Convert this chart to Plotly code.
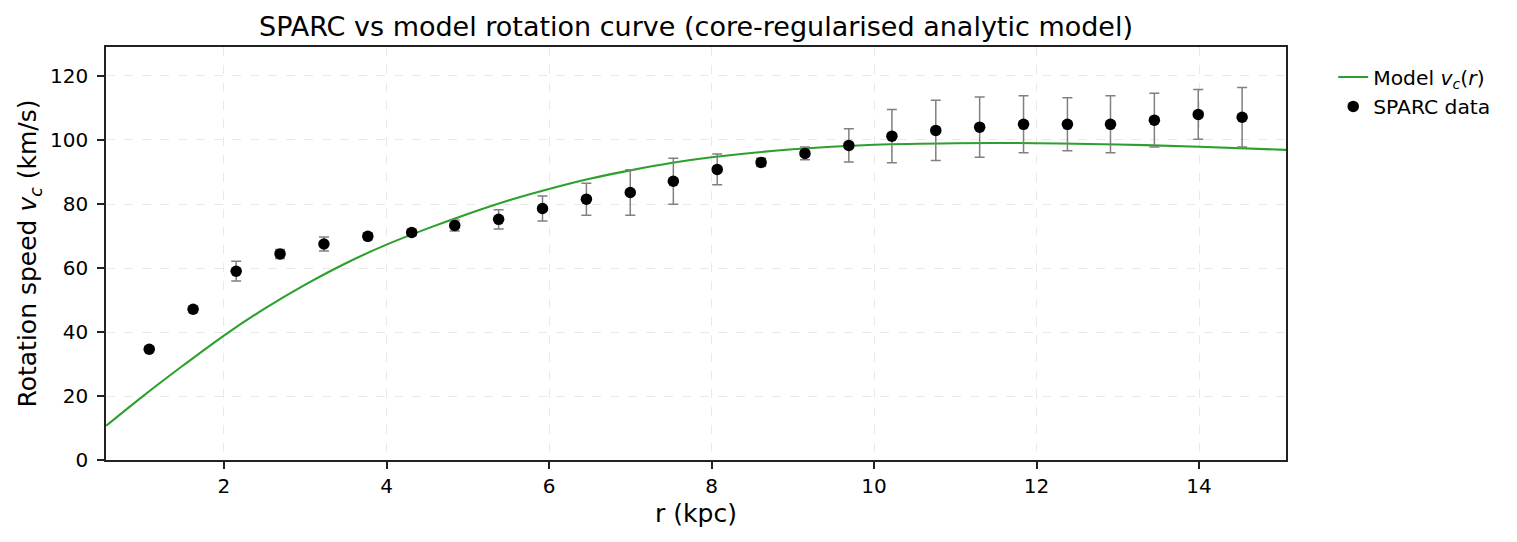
import plotly.graph_objects as go

# SPARC observations
r_data = [1.08, 1.62, 2.15, 2.69, 3.23, 3.77, 4.31, 4.84, 5.38, 5.92, 6.46, 7.00, 7.53,
          8.07, 8.61, 9.15, 9.69, 10.22, 10.76, 11.30, 11.84, 12.38, 12.91, 13.45, 13.99, 14.53]
v_data = [34.6, 47.1, 59.0, 64.4, 67.5, 69.9, 71.1, 73.3, 75.2, 78.6, 81.5, 83.6, 87.1,
          90.8, 93.0, 95.8, 98.3, 101.2, 103.0, 104.0, 104.9, 104.9, 104.9, 106.2, 108.0, 107.1]
v_err = [0.8, 0.9, 3.1, 1.4, 2.2, 1.0, 1.0, 1.7, 3.0, 3.9, 5.0, 7.1, 7.2,
         4.8, 1.3, 2.0, 5.2, 8.3, 9.4, 9.4, 8.9, 8.3, 8.9, 8.4, 7.8, 9.3]

# model curve
r_model = [0.55, 1.0, 1.5, 2.0, 2.5, 3.0, 3.5, 4.0, 4.5, 5.0, 5.5, 6.0, 6.5, 7.0, 7.5,
           8.0, 9.0, 10.0, 11.0, 12.0, 13.0, 14.0, 15.07]
v_model = [10.7, 19.9, 29.6, 38.9, 47.3, 54.8, 61.5, 67.3, 72.3, 76.9, 81.1, 84.7, 87.9,
           90.5, 92.8, 94.6, 97.1, 98.5, 99.0, 99.0, 98.6, 97.9, 96.9]

fig = go.Figure()

fig.add_trace(go.Scatter(
    x=r_model, y=v_model,
    mode="lines",
    line=dict(color="#2ca02c", width=2.1, shape="spline"),
    name="Model <i>v</i><sub><i>c</i></sub>(<i>r</i>)",
))

fig.add_trace(go.Scatter(
    x=r_data, y=v_data,
    mode="markers",
    marker=dict(color="black", size=11.5),
    error_y=dict(type="data", array=v_err, color="#808080", thickness=1.5, width=5),
    name="SPARC data",
))

axis_common = dict(
    showline=True, linecolor="#222222", linewidth=1.6, mirror=True,
    ticks="outside", ticklen=7, tickwidth=1.6, tickcolor="#222222",
    showgrid=True, gridcolor="rgba(200,200,200,0.4)", griddash="dash", gridwidth=1.3,
    zeroline=False,
    tickfont=dict(size=20, color="black"),
)

# page body adds an 8px offset, so the figure is 8px smaller and margins shifted
fig.update_layout(
    width=1509, height=534,
    template="plotly_white",
    font=dict(family="DejaVu Sans", color="black"),
    title=dict(text="SPARC vs model rotation curve (core-regularised analytic model)",
               x=(98 + 1278) / 2 / 1509, xanchor="center", y=0.966, yanchor="middle",
               font=dict(size=27)),
    margin=dict(l=98, r=231, t=39, b=82),
    paper_bgcolor="white",
    plot_bgcolor="white",
    xaxis=dict(axis_common, range=[0.548, 15.07], tickvals=[2, 4, 6, 8, 10, 12, 14],
               title=dict(text="r (kpc)", font=dict(size=25), standoff=8)),
    yaxis=dict(axis_common, range=[0, 129.06], tickvals=[0, 20, 40, 60, 80, 100, 120],
               ticklabelstandoff=5,
               title=dict(text="Rotation speed <i>v</i><sub><i>c</i></sub> (km/s)",
                          font=dict(size=25), standoff=6)),
    legend=dict(x=1.04, y=0.975, xanchor="left", yanchor="top",
                font=dict(size=20.3), bgcolor="rgba(0,0,0,0)", tracegroupgap=4),
    showlegend=True,
)

fig.write_html("out.html")
